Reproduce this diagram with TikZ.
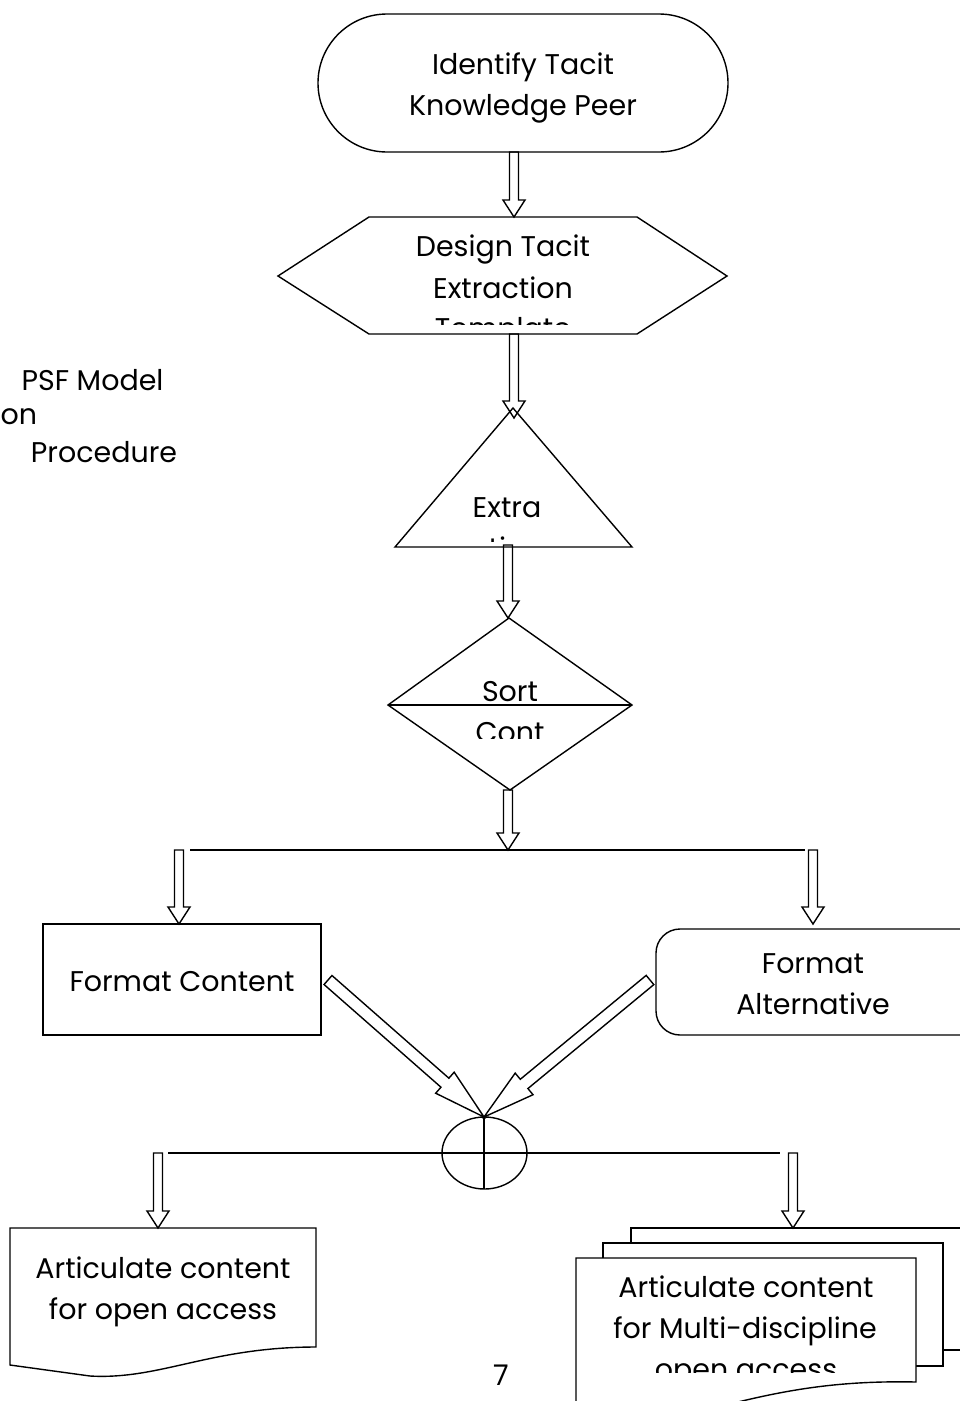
\documentclass[tikz,border=0pt]{standalone}
\usepackage{fontspec}
\setmainfont{Poppins}
\usetikzlibrary{calc}
\newcommand\blockarrow[5]{% from, to, half shaft, head length, half head
  \coordinate (hb) at ($(#2)!#4!(#1)$);
  \draw[shp, line join=miter]
    ($(#1)!#3!90:(#2)$) -- ($(hb)!#3!90:(#2)$) -- ($(hb)!#5!90:(#2)$) -- (#2)
    -- ($(hb)!#5!-90:(#2)$) -- ($(hb)!#3!-90:(#2)$) -- ($(#1)!#3!-90:(#2)$) -- cycle;
}
\begin{document}
\begin{tikzpicture}[x=1pt,y=-1pt,
  shp/.style={draw=black, line width=1.4pt},
  txt/.style={font=\fontsize{28.5}{34}\selectfont, inner sep=0pt, anchor=base, text=black}]
\useasboundingbox (0,0) rectangle (960,1401);
\fill[white] (0,0) rectangle (960,1401);
\clip (0,0) rectangle (960,1401);

% side labels
\node[txt] (psf) at (92.5,390) {PSF Model};
\node[txt, anchor=base west] (on) at (0.5,424) {on};
\node[txt] (proc) at (104,462) {Procedure};

% 1 terminal
\draw[shp, rounded corners=69pt] (318,14) rectangle (728,152);
\node[txt] (t1a) at (523,74) {Identify Tacit};
\node[txt] (t1b) at (523,115) {Knowledge Peer};
\coordinate (termB) at (514,152);

% 2 hexagon
\draw[shp] (278,276) -- (369,217) -- (637,217) -- (727,276) -- (637,334) -- (369,334) -- cycle;
\coordinate (hexT) at (514,217);
\coordinate (hexB) at (514,334);
\node[txt] (h1) at (503,256) {Design Tacit};
\node[txt] (h2) at (503,298) {Extraction};
\begin{scope}
  \clip (300,300) rectangle (700,324);
  \node[txt] (h3) at (503,338) {Template};
\end{scope}

% 3 triangle
\draw[shp] (513,408) -- (632,547) -- (395,547) -- cycle;
\coordinate (triT) at (514,418);
\coordinate (triB) at (508,545);
\node[txt] (tr1) at (507,517) {Extra};
\begin{scope}
  \clip (490,520) rectangle (505,541.5);
  \node[txt] (tr2) at (507,558) {ction};
\end{scope}

% 4 diamond
\draw[shp] (509,618) -- (632,705) -- (510,790) -- (388,705) -- cycle;
\draw[shp] (388,705) -- (632,705);
\coordinate (diaT) at (508,618);
\coordinate (diaB) at (508,790);
\node[txt] (d1) at (510,701) {Sort};
\begin{scope}
  \clip (400,710) rectangle (620,738);
  \node[txt] (d2) at (510,742) {Cont};
\end{scope}

% split line 1
\coordinate (split1) at (508,850);
\coordinate (s1L) at (190,850);
\coordinate (s1R) at (805,850);
\draw[shp] (s1L) -- (s1R);
\coordinate (brL) at (179,850);
\coordinate (brR) at (813,850);

% format content
\draw[shp] (43,924) rectangle (321,1035);
\coordinate (fcT) at (179,924);
\node[txt] (fc) at (182,991) {Format Content};
\coordinate (fcOut) at (328,980);

% format alternative
\draw[shp, rounded corners=24pt] (656,929) rectangle (985,1035);
\coordinate (faT) at (813,924);
\node[txt] (fa1) at (813,973) {Format};
\node[txt] (fa2) at (813,1014) {Alternative};
\coordinate (faOut) at (650,980);

% summing junction
\draw[shp] (484.5,1153) ellipse [x radius=42.5, y radius=36];
\coordinate (sumT) at (484,1117);
\draw[shp] (sumT) -- (484,1189);
\coordinate (s2L) at (168,1153);
\coordinate (s2R) at (780,1153);
\draw[shp] (s2L) -- (s2R);
\coordinate (b2L) at (158,1153);
\coordinate (b2R) at (793,1153);

% document
\draw[shp] (10,1228) -- (316,1228) -- (316,1347)
  .. controls (210,1347) and (160,1380) .. (90,1376) -- (10,1365) -- cycle;
\coordinate (docT) at (158,1228);
\node[txt] (doc1) at (163,1278) {Articulate content};
\node[txt] (doc2) at (163,1319) {for open access};

% multi-document
\draw[shp, fill=white] (631,1228) rectangle (1000,1350);
\draw[shp, fill=white] (603,1243) rectangle (943,1366);
\draw[shp, fill=white] (576,1258) -- (916,1258) -- (916,1382)
  .. controls (820,1380) and (760,1395) .. (670,1420) -- (576,1412) -- cycle;
\coordinate (mdT) at (793,1228);
\node[txt] (md1) at (746,1297) {Articulate content};
\node[txt] (md2) at (745,1338) {for Multi-discipline};
\begin{scope}
  \clip (580,1345) rectangle (910,1372.5);
  \node[txt] (md3) at (746,1379) {open access};
\end{scope}

% page number
\node[txt] (pg) at (501,1385) {7};

% block arrows
\blockarrow{termB}{hexT}{4.5pt}{17pt}{11pt}
\blockarrow{hexB}{triT}{4.5pt}{17pt}{11pt}
\blockarrow{triB}{diaT}{4.5pt}{17pt}{11pt}
\blockarrow{diaB}{split1}{4.5pt}{17pt}{11pt}
\blockarrow{brL}{fcT}{4.5pt}{17pt}{11pt}
\blockarrow{brR}{faT}{4.5pt}{17pt}{11pt}
\blockarrow{fcOut}{sumT}{6pt}{52pt}{14pt}
\blockarrow{faOut}{sumT}{6pt}{52pt}{14pt}
\blockarrow{b2L}{docT}{4.5pt}{17pt}{11pt}
\blockarrow{b2R}{mdT}{4.5pt}{17pt}{11pt}
\end{tikzpicture}
\end{document}
